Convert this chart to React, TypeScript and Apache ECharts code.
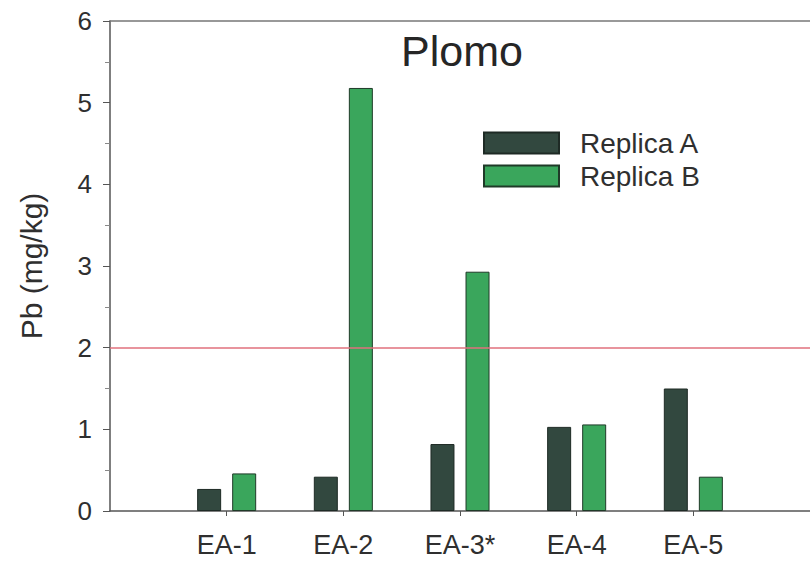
import React, { useEffect, useRef } from "react";
import * as echarts from "echarts";

const categories = ["EA-1", "EA-2", "EA-3*", "EA-4", "EA-5"];
const categoryPositions = [1, 2, 3, 4, 5];
const replicaA = [0.27, 0.42, 0.82, 1.03, 1.5];
const replicaB = [0.46, 5.18, 2.93, 1.06, 0.42];
const seriesNames = ["Replica A", "Replica B"];
const limitValue = 2;
const titleText = "Plomo";
const yAxisName = "Pb (mg/kg)";

const FONT = "'Liberation Sans', Arial, Helvetica, sans-serif";

export default function App() {
  const ref = useRef<HTMLDivElement>(null);
  useEffect(() => {
    if (!ref.current) return;
    const chart = echarts.init(ref.current, undefined, { renderer: "svg" });
    const axisColor = "#555";
    const textColor = "#2f2f2f";
    chart.setOption({
      animation: false,
      backgroundColor: "#ffffff",
      title: {
        text: titleText,
        left: 396,
        top: 24,
        textStyle: { fontFamily: FONT, fontSize: 43, fontWeight: "normal", color: "#262626" },
      },
      legend: {
        orient: "vertical",
        left: 478,
        top: 124,
        itemWidth: 75,
        itemHeight: 21,
        itemGap: 5,
        icon: "rect",
        data: seriesNames,
        textStyle: { fontFamily: FONT, fontSize: 28, color: textColor, padding: [0, 0, 0, 16] },
      },
      grid: { left: 110, right: 0, top: 21, bottom: 50 },
      xAxis: [
        {
          type: "value",
          min: 0,
          max: 6,
          interval: 1,
          splitLine: { show: false },
          axisLine: { show: true, lineStyle: { color: axisColor, width: 1.5 } },
          axisTick: {
            show: true,
            customValues: categoryPositions,
            inside: false,
            length: 5,
            lineStyle: { color: axisColor },
          },
          axisLabel: {
            customValues: categoryPositions,
            margin: 20,
            fontFamily: FONT,
            fontSize: 27,
            color: textColor,
            formatter: (v: number) => categories[Math.round(v) - 1] ?? "",
          },
        },
        {
          type: "value",
          position: "top",
          min: 0,
          max: 6,
          splitLine: { show: false },
          axisLine: { show: true, onZero: false, lineStyle: { color: "#777", width: 1.5 } },
          axisTick: { show: false },
          axisLabel: { show: false },
        },
      ],
      yAxis: {
        type: "value",
        min: 0,
        max: 6,
        interval: 1,
        name: yAxisName,
        nameLocation: "middle",
        nameGap: 64,
        nameTextStyle: { fontFamily: FONT, fontSize: 30, color: textColor },
        splitLine: { show: false },
        axisLine: { show: true, lineStyle: { color: axisColor, width: 1.5 } },
        axisTick: { show: true, length: 7, lineStyle: { color: axisColor } },
        minorTick: { show: true, splitNumber: 2, length: 5, lineStyle: { color: "#888" } },
        axisLabel: { margin: 18, fontFamily: FONT, fontSize: 26, color: textColor },
      },
      series: [
        {
          name: seriesNames[0],
          type: "bar",
          barWidth: 24,
          barGap: "46%",
          itemStyle: { color: "#32483f", borderColor: "#1e2a25", borderWidth: 1 },
          data: categoryPositions.map((x, i) => [x, replicaA[i]]),
          markLine: {
            silent: true,
            symbol: ["none", "none"],
            label: { show: false },
            lineStyle: { color: "#e0707c", width: 1.5, type: "solid" },
            data: [{ yAxis: limitValue }],
          },
        },
        {
          name: seriesNames[1],
          type: "bar",
          barWidth: 24,
          barGap: "46%",
          itemStyle: { color: "#3aa65c", borderColor: "#1f3a28", borderWidth: 1 },
          data: categoryPositions.map((x, i) => [x, replicaB[i]]),
        },
      ],
    });
    return () => chart.dispose();
  }, []);
  return <div ref={ref} style={{ width: 810, height: 561, position: "fixed", left: 0, top: 0 }} />;
}
